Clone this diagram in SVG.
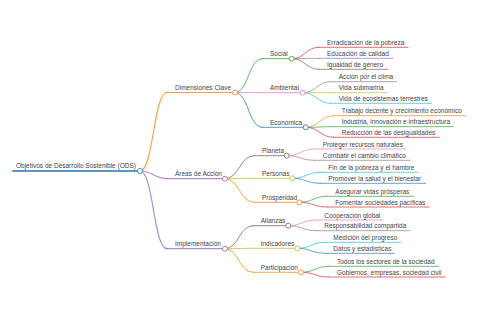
<svg xmlns="http://www.w3.org/2000/svg" width="480" height="320" viewBox="0 0 480 320">
<style>
text{font-family:"Liberation Sans",Arial,sans-serif;font-size:6.5px;fill:#444}
path,line{fill:none;stroke-linecap:round;stroke-opacity:0.75}
circle{fill:#fff;stroke-width:1;stroke-opacity:0.8}
.d0{stroke-width:2}.d1{stroke-width:1.2}.d2{stroke-width:1}.d3{stroke-width:0.9}
.c0{stroke:#1f77b4}.c1{stroke:#ff7f0e}.c2{stroke:#2ca02c}.c3{stroke:#d62728}.c4{stroke:#9467bd}
.c5{stroke:#8c564b}.c6{stroke:#e377c2}.c7{stroke:#7f7f7f}.c8{stroke:#bcbd22}.c9{stroke:#17becf}
</style>
<rect width="480" height="320" fill="#fff"/>
<g id="connectors">
<path class="d1 c1" d="M140,171 C153.5,171 153.5,92.5 167,92.5"/>
<path class="d1 c4" d="M140,171 C153.5,171 153.5,178.7 167,178.7"/>
<path class="d1 c4" d="M140,171 C153.5,171 153.5,248.7 167,248.7"/>
<path class="d2 c2" d="M235,92.5 C248.5,92.5 248.5,58.7 262,58.7"/>
<path class="d2 c6" d="M235,92.5 C248.5,92.5 248.5,92.7 262,92.7"/>
<path class="d2 c0" d="M235,92.5 C248.5,92.5 248.5,127.3 262,127.3"/>
<path class="d2 c5" d="M225,178.7 C239.5,178.7 239.5,155.7 254,155.7"/>
<path class="d2 c8" d="M225,178.7 C239.5,178.7 239.5,178.3 254,178.3"/>
<path class="d2 c1" d="M225,178.7 C239.5,178.7 239.5,202.3 254,202.3"/>
<path class="d2 c5" d="M225,248.7 C239,248.7 239,225.7 253,225.7"/>
<path class="d2 c8" d="M225,248.7 C239,248.7 239,248.3 253,248.3"/>
<path class="d2 c1" d="M225,248.7 C239,248.7 239,272.3 253,272.3"/>
<path class="d3 c3" d="M291.7,58.7 C305.4,58.7 305.4,47.3 319,47.3"/>
<path class="d3 c4" d="M291.7,58.7 C305.4,58.7 305.4,58.3 319,58.3"/>
<path class="d3 c5" d="M291.7,58.7 C305.4,58.7 305.4,69.3 319,69.3"/>
<path class="d3 c7" d="M302.7,92.7 C316.7,92.7 316.7,81.7 330.7,81.7"/>
<path class="d3 c8" d="M302.7,92.7 C316.7,92.7 316.7,92.7 330.7,92.7"/>
<path class="d3 c9" d="M302.7,92.7 C316.7,92.7 316.7,103.3 330.7,103.3"/>
<path class="d3 c1" d="M305.7,127.3 C319.7,127.3 319.7,115.7 333.7,115.7"/>
<path class="d3 c2" d="M305.7,127.3 C319.7,127.3 319.7,126.7 333.7,126.7"/>
<path class="d3 c3" d="M305.7,127.3 C319.7,127.3 319.7,137.3 333.7,137.3"/>
<path class="d3 c6" d="M286.7,155.7 C300.7,155.7 300.7,149 314.7,149"/>
<path class="d3 c7" d="M286.7,155.7 C300.7,155.7 300.7,160.3 314.7,160.3"/>
<path class="d3 c9" d="M292.3,178.3 C306.3,178.3 306.3,172.3 320.3,172.3"/>
<path class="d3 c0" d="M292.3,178.3 C306.3,178.3 306.3,183.3 320.3,183.3"/>
<path class="d3 c2" d="M299.3,202.3 C313.3,202.3 313.3,196.3 327.3,196.3"/>
<path class="d3 c3" d="M299.3,202.3 C313.3,202.3 313.3,207 327.3,207"/>
<path class="d3 c6" d="M288.3,225.7 C302.3,225.7 302.3,220 316.3,220"/>
<path class="d3 c7" d="M288.3,225.7 C302.3,225.7 302.3,230.7 316.3,230.7"/>
<path class="d3 c9" d="M297.3,248.3 C311.3,248.3 311.3,242.3 325.3,242.3"/>
<path class="d3 c0" d="M297.3,248.3 C311.3,248.3 311.3,253.3 325.3,253.3"/>
<path class="d3 c2" d="M301,272.3 C315,272.3 315,266.3 329,266.3"/>
<path class="d3 c3" d="M301,272.3 C315,272.3 315,277 329,277"/>
</g>
<g id="n-root"><line class="d0 c0" x1="13" y1="171" x2="140" y2="171"/><circle class="c0" cx="140" cy="171" r="2.6"/><text x="16" y="168.3">Objetivos de Desarrollo Sostenible (ODS)</text></g>
<g id="n-dimensiones"><line class="d1 c1" x1="167" y1="92.5" x2="235" y2="92.5"/><circle class="c1" cx="235" cy="92.5" r="2.5"/><text x="175" y="90">Dimensiones Clave</text></g>
<g id="n-areas"><line class="d1 c4" x1="167" y1="178.7" x2="225" y2="178.7"/><circle class="c4" cx="225" cy="178.7" r="2.5"/><text x="175" y="176.2">Áreas de Acción</text></g>
<g id="n-implementacion"><line class="d1 c4" x1="167" y1="248.7" x2="225" y2="248.7"/><circle class="c4" cx="225" cy="248.7" r="2.5"/><text x="175" y="246.2">Implementación</text></g>
<g id="n-social"><line class="d2 c2" x1="262" y1="58.7" x2="291.7" y2="58.7"/><circle class="c2" cx="291.7" cy="58.7" r="2.5"/><text x="270" y="56.2">Social</text></g>
<g id="n-ambiental"><line class="d2 c6" x1="262" y1="92.7" x2="302.7" y2="92.7"/><circle class="c6" cx="302.7" cy="92.7" r="2.5"/><text x="270" y="90.2">Ambiental</text></g>
<g id="n-economica"><line class="d2 c0" x1="262" y1="127.3" x2="305.7" y2="127.3"/><circle class="c0" cx="305.7" cy="127.3" r="2.5"/><text x="270" y="124.8">Económica</text></g>
<g id="n-planeta"><line class="d2 c5" x1="254" y1="155.7" x2="286.7" y2="155.7"/><circle class="c5" cx="286.7" cy="155.7" r="2.5"/><text x="262" y="153.2">Planeta</text></g>
<g id="n-personas"><line class="d2 c8" x1="254" y1="178.3" x2="292.3" y2="178.3"/><circle class="c8" cx="292.3" cy="178.3" r="2.5"/><text x="262" y="175.8">Personas</text></g>
<g id="n-prosperidad"><line class="d2 c1" x1="254" y1="202.3" x2="299.3" y2="202.3"/><circle class="c1" cx="299.3" cy="202.3" r="2.5"/><text x="262" y="199.8">Prosperidad</text></g>
<g id="n-alianzas"><line class="d2 c5" x1="253" y1="225.7" x2="288.3" y2="225.7"/><circle class="c5" cx="288.3" cy="225.7" r="2.5"/><text x="260.7" y="223.2">Alianzas</text></g>
<g id="n-indicadores"><line class="d2 c8" x1="253" y1="248.3" x2="297.3" y2="248.3"/><circle class="c8" cx="297.3" cy="248.3" r="2.5"/><text x="260.7" y="245.8">Indicadores</text></g>
<g id="n-participacion"><line class="d2 c1" x1="253" y1="272.3" x2="301" y2="272.3"/><circle class="c1" cx="301" cy="272.3" r="2.5"/><text x="260.7" y="269.8">Participación</text></g>
<g id="n-erradicacion"><line class="d3 c3" x1="319" y1="47.3" x2="408" y2="47.3"/><text x="327" y="44.8">Erradicación de la pobreza</text></g>
<g id="n-educacion"><line class="d3 c4" x1="319" y1="58.3" x2="393" y2="58.3"/><text x="327" y="55.8">Educación de calidad</text></g>
<g id="n-igualdad"><line class="d3 c5" x1="319" y1="69.3" x2="388" y2="69.3"/><text x="327" y="66.8">Igualdad de género</text></g>
<g id="n-accion"><line class="d3 c7" x1="330.7" y1="81.7" x2="396.7" y2="81.7"/><text x="338.7" y="79.2">Acción por el clima</text></g>
<g id="n-submarina"><line class="d3 c8" x1="330.7" y1="92.7" x2="387" y2="92.7"/><text x="338.7" y="90.2">Vida submarina</text></g>
<g id="n-terrestres"><line class="d3 c9" x1="330.7" y1="103.3" x2="431.7" y2="103.3"/><text x="338.7" y="100.8">Vida de ecosistemas terrestres</text></g>
<g id="n-trabajo"><line class="d3 c1" x1="333.7" y1="115.7" x2="466" y2="115.7"/><text x="341.7" y="113.2">Trabajo decente y crecimiento económico</text></g>
<g id="n-industria"><line class="d3 c2" x1="333.7" y1="126.7" x2="453.3" y2="126.7"/><text x="341.7" y="124.2">Industria, innovación e infraestructura</text></g>
<g id="n-reduccion"><line class="d3 c3" x1="333.7" y1="137.3" x2="439.3" y2="137.3"/><text x="341.7" y="134.8">Reducción de las desigualdades</text></g>
<g id="n-proteger"><line class="d3 c6" x1="314.7" y1="149" x2="405.7" y2="149"/><text x="322.7" y="146.5">Proteger recursos naturales</text></g>
<g id="n-combatir"><line class="d3 c7" x1="314.7" y1="160.3" x2="410" y2="160.3"/><text x="322.7" y="157.8">Combatir el cambio climático</text></g>
<g id="n-fin"><line class="d3 c9" x1="320.3" y1="172.3" x2="418.3" y2="172.3"/><text x="328.3" y="169.8">Fin de la pobreza y el hambre</text></g>
<g id="n-promover"><line class="d3 c0" x1="320.3" y1="183.3" x2="425.7" y2="183.3"/><text x="328.3" y="180.8">Promover la salud y el bienestar</text></g>
<g id="n-asegurar"><line class="d3 c2" x1="327.3" y1="196.3" x2="414" y2="196.3"/><text x="335.3" y="193.8">Asegurar vidas prósperas</text></g>
<g id="n-fomentar"><line class="d3 c3" x1="327.3" y1="207" x2="429" y2="207"/><text x="335.3" y="204.5">Fomentar sociedades pacíficas</text></g>
<g id="n-cooperacion"><line class="d3 c6" x1="316.3" y1="220" x2="383.3" y2="220"/><text x="324.3" y="217.5">Cooperación global</text></g>
<g id="n-responsabilidad"><line class="d3 c7" x1="316.3" y1="230.7" x2="410" y2="230.7"/><text x="324.3" y="228.2">Responsabilidad compartida</text></g>
<g id="n-medicion"><line class="d3 c9" x1="325.3" y1="242.3" x2="401" y2="242.3"/><text x="333.3" y="239.8">Medición del progreso</text></g>
<g id="n-datos"><line class="d3 c0" x1="325.3" y1="253.3" x2="394.3" y2="253.3"/><text x="333.3" y="250.8">Datos y estadísticas</text></g>
<g id="n-todos"><line class="d3 c2" x1="329" y1="266.3" x2="439" y2="266.3"/><text x="337" y="263.8">Todos los sectores de la sociedad</text></g>
<g id="n-gobiernos"><line class="d3 c3" x1="329" y1="277" x2="445.3" y2="277"/><text x="337" y="274.5">Gobiernos, empresas, sociedad civil</text></g>
</svg>
